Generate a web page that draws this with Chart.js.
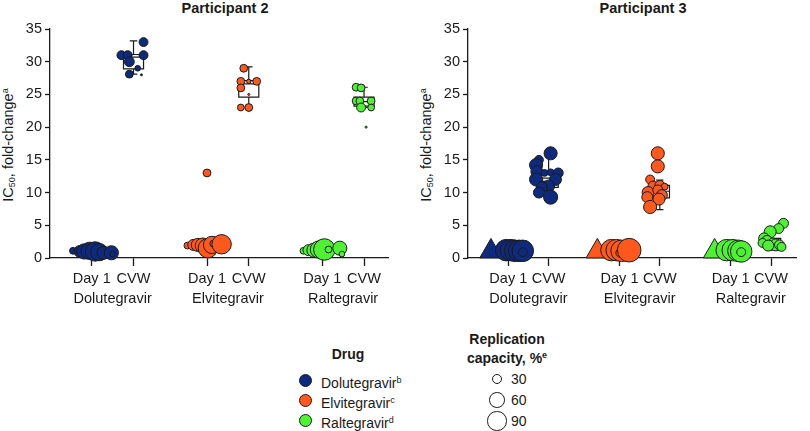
<!DOCTYPE html>
<html>
<head>
<meta charset="utf-8">
<script src="https://cdn.jsdelivr.net/npm/chart.js@4.4.1/dist/chart.umd.min.js"></script>
<style>
  body { margin: 0; background: #fff; font-family: 'Liberation Sans', Arial, sans-serif; color: #1a1a1a; }
  #wrap { position: relative; width: 810px; height: 431px; overflow: hidden; }
  canvas { position: absolute; top: 0; }
  .ptitle { position: absolute; top: 0; font-weight: bold; font-size: 14.5px; line-height: 16px; transform: translateX(-50%); white-space: nowrap; }
  .ytitle { position: absolute; top: 145px; font-size: 14.5px; line-height: 16px; white-space: nowrap; transform: translate(-50%, -50%) rotate(-90deg); }
  .ytitle sub { font-size: 9px; vertical-align: -2px; }
  .ytitle sup, .lg sup { font-size: 9px; vertical-align: 5px; }
  .lg { position: absolute; font-size: 14px; line-height: 16px; white-space: nowrap; }
  .lgh { position: absolute; font-size: 14px; font-weight: bold; line-height: 16px; text-align: center; transform: translateX(-50%); white-space: nowrap; }
  .dot { position: absolute; box-sizing: border-box; border: 1px solid #1a1a1a; border-radius: 50%; }
</style>
</head>
<body>
<div id="wrap">
  <div class="ptitle" style="left:225px">Participant 2</div>
  <div class="ptitle" style="left:643px">Participant 3</div>
  <div class="ytitle" style="left:8px">IC<sub>50</sub>, fold-change<sup>a</sup></div>
  <div class="ytitle" style="left:426px">IC<sub>50</sub>, fold-change<sup>a</sup></div>
  <canvas id="p2" width="400" height="315" style="left:0"></canvas>
  <canvas id="p3" width="392" height="315" style="left:418px"></canvas>
  <div id="legend"></div>
</div>
<script>
/* ---------- Categories ---------- */
const drugs      = ['Dolutegravir', 'Elvitegravir', 'Raltegravir'];
const drugNotes  = ['b', 'c', 'd'];
const drugColors = ['#0e2a7e', '#ff581d', '#4ef233'];
const timepoints = ['Day 1', 'CVW'];
const day1Pos    = [0, 2.76, 5.52];
const cvwPos     = [1, 3.76, 6.52];
const legendCaps = [30, 60, 90];

/* ---------- Participant 2 : [x jitter, IC50 fold-change, replication capacity %] ---------- */
const p2Day1Dtg = [[-0.45, 1.1, 16], [-0.28, 1.0, 42], [-0.18, 1.0, 64], [-0.05, 1.1, 81], [0.08, 1.0, 100],
                   [0.18, 0.9, 81], [0.28, 0.8, 49], [0.47, 0.8, 56], [0.5, 0.6, 12]];
const p2Day1Evg = [[-0.47, 1.9, 16], [-0.33, 2.0, 36], [-0.22, 2.0, 49], [-0.1, 1.9, 64], [0.0, 13.0, 20],
                   [0.02, 1.5, 100], [0.12, 2.0, 81], [0.15, 2.2, 16], [0.35, 2.1, 100]];
const p2Day1Ral = [[-0.45, 1.1, 16], [-0.33, 1.2, 36], [-0.2, 1.2, 56], [-0.08, 1.3, 81], [0.05, 1.3, 121],
                   [0.15, 1.3, 16], [0.42, 1.5, 56], [0.47, 0.6, 12]];
const p2CvwDtg  = [[0.24, 33.0, 25], [-0.29, 31.0, 25], [-0.14, 31.0, 25], [0.24, 31.0, 25], [-0.1, 30.0, 30],
                   [0.1, 29.0, 12], [-0.1, 28.1, 20], [0.19, 28.0, 3]];
const p2CvwEvg  = [[-0.12, 29.0, 20], [-0.19, 27.0, 20], [0.0, 27.0, 8], [0.19, 27.0, 20], [-0.19, 26.0, 20],
                   [0.0, 25.0, 3], [-0.19, 23.0, 16], [0.0, 23.0, 20]];
const p2CvwRal  = [[-0.19, 26.1, 20], [-0.07, 26.0, 20], [-0.19, 24.0, 20], [-0.1, 24.0, 20], [0.17, 24.0, 20],
                   [-0.07, 23.0, 25], [0.17, 23.0, 16], [0.05, 20.0, 3]];
// box stats: [low whisker, Q1, median, Q3, high whisker]
const p2CvwBox  = [[28.1, 28.9, 30.7, 31.1, 33.2], [23.0, 24.6, 26.6, 27.1, 29.2], [23.0, 23.2, 23.9, 24.6, 26.1]];

/* ---------- Participant 3 ---------- */
const p3Day1Tri = [[-0.43, 1.0], [-0.55, 1.0], [-0.4, 1.0]];
const p3Day1Dtg = [[-0.05, 1.2, 121], [0.07, 1.2, 121], [0.17, 1.1, 121], [0.27, 1.1, 121], [0.36, 1.1, 121], [0.36, 0.9, 25]];
const p3Day1Evg = [[-0.2, 1.2, 121], [-0.07, 1.2, 121], [0.05, 1.1, 121], [0.02, 0.8, 25], [0.24, 1.2, 144]];
const p3Day1Ral = [[-0.1, 1.2, 121], [0.05, 1.2, 121], [0.19, 1.1, 121], [0.26, 1.0, 121], [0.26, 0.9, 25]];
const p3CvwDtg  = [[0.05, 16.0, 49], [-0.24, 15.0, 25], [-0.31, 14.2, 49], [-0.29, 13.2, 42], [-0.1, 13.0, 16],
                   [0.05, 13.1, 16], [0.24, 13.0, 30], [-0.31, 12.0, 49], [0.17, 12.0, 42], [-0.12, 11.0, 30],
                   [0.0, 11.0, 42], [-0.17, 10.8, 36], [-0.24, 10.0, 36], [0.05, 9.3, 56]];
const p3CvwEvg  = [[-0.05, 16.0, 49], [-0.05, 14.0, 49], [-0.24, 12.0, 25], [-0.17, 11.0, 30], [0.0, 11.1, 30],
                   [0.12, 10.9, 16], [-0.29, 10.0, 42], [-0.05, 10.4, 30], [0.05, 9.6, 36], [-0.02, 9.0, 42],
                   [-0.31, 9.3, 36], [-0.24, 7.8, 49]];
const p3CvwRal  = [[0.31, 5.3, 30], [0.19, 4.5, 30], [-0.02, 4.0, 42], [-0.17, 3.0, 36], [-0.1, 2.6, 36],
                   [0.05, 2.3, 30], [0.12, 2.0, 42], [-0.21, 2.3, 25], [0.21, 2.0, 30], [-0.07, 1.9, 36], [0.26, 1.7, 25]];
const p3CvwBox  = [[9.2, 10.8, 12.2, 13.2, 16.2], [7.4, 9.2, 10.2, 11.1, 11.9], [1.2, 1.8, 2.3, 3.0, 4.5]];

/* ---------- Helpers ---------- */
const ink = '#1a1a1a';
const rcRadius = rc => 1.05 * Math.sqrt(rc) - 0.8;

function pointSet(rows, pos, color, tri) {
  return {
    data: rows.map(([dx, fc, rc]) => ({ x: pos + dx, y: fc, rc: rc })),
    pointStyle: tri ? 'triangle' : 'circle',
    pointRadius: c => tri ? 13 : rcRadius(c.raw.rc),
    pointBackgroundColor: color,
    pointBorderColor: ink,
    pointBorderWidth: 1,
    showLine: false,
    clip: false,
    order: tri ? 2 : 1
  };
}

// x ticks: "Day 1" / "CVW" with the drug name under the pair
const xTickDefs = [];
drugs.forEach((d, i) => {
  xTickDefs.push({ v: day1Pos[i], label: timepoints[0], mark: true });
  xTickDefs.push({ v: (day1Pos[i] + cvwPos[i]) / 2, label: ['', d], mark: false });
  xTickDefs.push({ v: cvwPos[i], label: timepoints[1], mark: true });
});

/* ---------- Box & whisker plugin ---------- */
const boxPlot = {
  id: 'boxPlot',
  beforeDatasetsDraw(chart, args, opts) {
    const { ctx, scales: { x, y } } = chart;
    ctx.save();
    ctx.strokeStyle = ink;
    ctx.lineWidth = 1.2;
    opts.stats.forEach(([lo, q1, med, q3, hi], i) => {
      const c = cvwPos[i];
      const xl = x.getPixelForValue(c - 0.24), xr = x.getPixelForValue(c + 0.24);
      const xc = x.getPixelForValue(c);
      const cw = x.getPixelForValue(c + 0.09) - xc;
      ctx.beginPath();
      ctx.rect(xl, y.getPixelForValue(q3), xr - xl, y.getPixelForValue(q1) - y.getPixelForValue(q3));
      ctx.moveTo(xl, y.getPixelForValue(med)); ctx.lineTo(xr, y.getPixelForValue(med));
      ctx.moveTo(xc, y.getPixelForValue(q3)); ctx.lineTo(xc, y.getPixelForValue(hi));
      ctx.moveTo(xc - cw, y.getPixelForValue(hi)); ctx.lineTo(xc + cw, y.getPixelForValue(hi));
      ctx.moveTo(xc, y.getPixelForValue(q1)); ctx.lineTo(xc, y.getPixelForValue(lo));
      ctx.moveTo(xc - cw, y.getPixelForValue(lo)); ctx.lineTo(xc + cw, y.getPixelForValue(lo));
      ctx.stroke();
    });
    ctx.restore();
  }
};

function makeChart(id, datasets, box, padRight, xMax) {
  return new Chart(document.getElementById(id), {
    type: 'scatter',
    data: { datasets },
    plugins: [boxPlot],
    options: {
      responsive: false,
      animation: false,
      events: [],
      layout: { padding: { top: 29, right: padRight, left: 0, bottom: 0 } },
      plugins: {
        legend: { display: false },
        tooltip: { enabled: false },
        boxPlot: { stats: box }
      },
      scales: {
        x: {
          type: 'linear',
          min: -1,
          max: xMax,
          afterBuildTicks: s => { s.ticks = xTickDefs.map(t => ({ value: t.v })); },
          afterFit: s => { s.height = 57; },
          border: { color: ink, width: 1.3 },
          grid: {
            drawOnChartArea: false,
            tickLength: 8,
            tickWidth: 1.3,
            tickColor: c => (xTickDefs[c.index] && xTickDefs[c.index].mark) ? ink : 'rgba(0,0,0,0)'
          },
          ticks: {
            autoSkip: false,
            maxRotation: 0,
            padding: 3,
            color: ink,
            font: { family: "'Liberation Sans', Arial, sans-serif", size: 14.5, lineHeight: '20px' },
            callback: (v, i) => xTickDefs[i] ? xTickDefs[i].label : ''
          }
        },
        y: {
          min: 0,
          max: 35,
          afterFit: s => { s.width = 50; },
          border: { color: ink, width: 1.3 },
          grid: { drawOnChartArea: false, tickLength: 5, tickWidth: 1.3, tickColor: ink },
          ticks: {
            stepSize: 5,
            padding: 3,
            color: ink,
            font: { family: "'Liberation Sans', Arial, sans-serif", size: 14.5 }
          }
        }
      }
    }
  });
}

/* ---------- Participant 2 ---------- */
const p2Day1 = [p2Day1Dtg, p2Day1Evg, p2Day1Ral];
const p2Cvw  = [p2CvwDtg, p2CvwEvg, p2CvwRal];
const p2Sets = [];
drugs.forEach((d, i) => {
  p2Sets.push(pointSet(p2Day1[i], day1Pos[i], drugColors[i], false));
  p2Sets.push(pointSet(p2Cvw[i], cvwPos[i], drugColors[i], false));
});
makeChart('p2', p2Sets, p2CvwBox, 10, 7.1);

/* ---------- Participant 3 ---------- */
const p3Day1 = [p3Day1Dtg, p3Day1Evg, p3Day1Ral];
const p3Cvw  = [p3CvwDtg, p3CvwEvg, p3CvwRal];
const p3Sets = [];
drugs.forEach((d, i) => {
  p3Sets.push(pointSet([p3Day1Tri[i]], day1Pos[i], drugColors[i], true));
  p3Sets.push(pointSet(p3Day1[i], day1Pos[i], drugColors[i], false));
  p3Sets.push(pointSet(p3Cvw[i], cvwPos[i], drugColors[i], false));
});
makeChart('p3', p3Sets, p3CvwBox, 0, 7.14);

/* ---------- Legend ---------- */
const legend = document.getElementById('legend');
function add(cls, html, css) {
  const el = document.createElement('div');
  el.className = cls;
  el.innerHTML = html;
  Object.assign(el.style, css);
  legend.appendChild(el);
  return el;
}
function dot(cx, cy, r, color) {
  const s = 2 * (r + 0.5);
  add('dot', '', { left: (cx - s / 2) + 'px', top: (cy - s / 2) + 'px', width: s + 'px', height: s + 'px', background: color });
}

add('lgh', 'Drug', { left: '348px', top: '346px' });
drugs.forEach((d, i) => {
  const cy = 380 + i * 20;
  dot(305, cy, 6, drugColors[i]);
  add('lg', d + '<sup>' + drugNotes[i] + '</sup>', { left: '321px', top: (cy - 8) + 'px' });
});

add('lgh', 'Replication<br>capacity, %<sup style="font-size:9px;vertical-align:5px">e</sup>', { left: '507px', top: '331px' });
legendCaps.forEach((c, i) => {
  const cy = 379 + i * 21;
  dot(497, cy, rcRadius(c), '#fff');
  add('lg', String(c), { left: '511px', top: (cy - 8) + 'px' });
});
</script>
</body>
</html>
